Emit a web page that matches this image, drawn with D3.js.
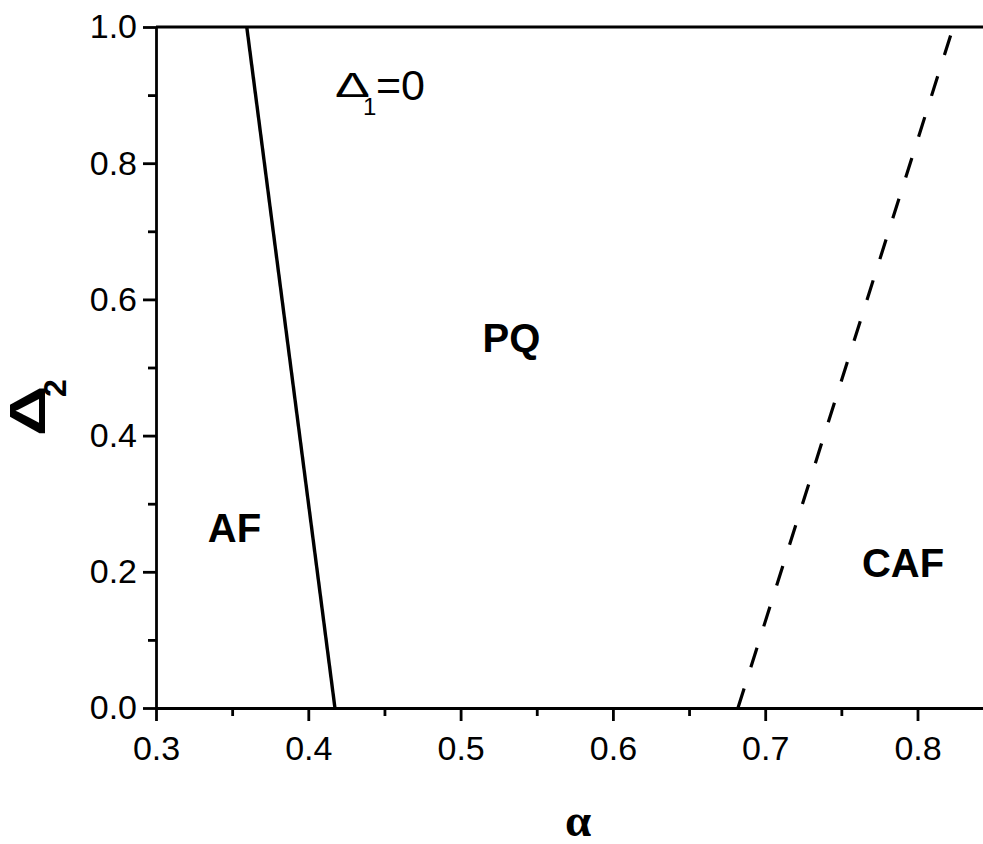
<!DOCTYPE html>
<html>
<head>
<meta charset="utf-8">
<script src="https://cdn.jsdelivr.net/npm/d3@7"></script>
<style>
  body { margin: 0; background: #fff; }
  svg { display: block; }
</style>
</head>
<body>
<svg id="chart" width="983" height="844"></svg>
<script>
// Phase boundaries in the (alpha, Delta2) plane for Delta1 = 0
const afAlpha   = [0.4175, 0.3596];   // AF / PQ boundary (solid)
const afDelta2  = [0.0, 1.0];
const cafAlpha  = [0.6821, 0.8218];   // PQ / CAF boundary (dashed)
const cafDelta2 = [0.0, 0.988];

// Axis ticks
const xMajorTicks = [0.3, 0.4, 0.5, 0.6, 0.7, 0.8];
const xMinorTicks = [0.35, 0.45, 0.55, 0.65, 0.75, 0.85];
const yMajorTicks = [0.0, 0.2, 0.4, 0.6, 0.8, 1.0];
const yMinorTicks = [0.1, 0.3, 0.5, 0.7, 0.9];

// Phase region names and where they sit (alpha, Delta2 of baseline centre)
const phaseNames  = ["AF", "PQ", "CAF"];
const phaseAlpha  = [0.3515, 0.5334, 0.7905];
const phaseDelta2 = [0.2438, 0.523, 0.193];

const svg = d3.select("#chart");
const FONT = "'Liberation Sans', Arial, Helvetica, sans-serif";

const x = d3.scaleLinear().domain([0.3, 0.85]).range([156, 156 + 0.55 * 1523]);
const y = d3.scaleLinear().domain([0, 1]).range([708, 27]);

const AXIS_W = 2.8;

// --- axes -------------------------------------------------------------
function styleAxis(g, fontSize) {
  g.attr("font-family", FONT).attr("font-size", fontSize);
  g.selectAll("path.domain").attr("stroke", "#000").attr("stroke-width", AXIS_W);
  g.selectAll(".tick line").attr("stroke", "#000").attr("stroke-width", AXIS_W);
  g.selectAll(".tick text").attr("fill", "#000");
}

const xAxis = svg.append("g")
  .attr("transform", `translate(0,${y(0)})`)
  .call(d3.axisBottom(x).tickValues(xMajorTicks).tickSize(13).tickPadding(15)
        .tickSizeOuter(0).tickFormat(d3.format(".1f")));
styleAxis(xAxis, 34);

const xMinor = svg.append("g")
  .attr("transform", `translate(0,${y(0)})`)
  .call(d3.axisBottom(x).tickValues(xMinorTicks).tickSize(8).tickFormat(""));
xMinor.select("path.domain").remove();
styleAxis(xMinor, 34);

const yAxis = svg.append("g")
  .attr("transform", `translate(${x(0.3)},0)`)
  .call(d3.axisLeft(y).tickValues(yMajorTicks).tickSize(13).tickPadding(6)
        .tickSizeOuter(0).tickFormat(d3.format(".1f")));
styleAxis(yAxis, 34);

const yMinor = svg.append("g")
  .attr("transform", `translate(${x(0.3)},0)`)
  .call(d3.axisLeft(y).tickValues(yMinorTicks).tickSize(8).tickFormat(""));
yMinor.select("path.domain").remove();
styleAxis(yMinor, 34);

// top frame line
svg.append("line")
  .attr("x1", x(0.3)).attr("x2", x(0.85))
  .attr("y1", y(1)).attr("y2", y(1))
  .attr("stroke", "#000").attr("stroke-width", AXIS_W);

// --- boundaries -------------------------------------------------------
const line = d3.line().x(d => x(d[0])).y(d => y(d[1]));

svg.append("path")
  .datum(d3.zip(afAlpha, afDelta2))
  .attr("d", line)
  .attr("fill", "none")
  .attr("stroke", "#000")
  .attr("stroke-width", 3.4);

svg.append("path")
  .datum(d3.zip(cafAlpha, cafDelta2))
  .attr("d", line)
  .attr("fill", "none")
  .attr("stroke", "#000")
  .attr("stroke-width", 3.2)
  .attr("stroke-dasharray", "20.5,22.3");

// --- phase labels -----------------------------------------------------
svg.append("g")
  .selectAll("text")
  .data(d3.range(phaseNames.length))
  .join("text")
  .attr("x", i => x(phaseAlpha[i]))
  .attr("y", i => y(phaseDelta2[i]))
  .attr("text-anchor", "middle")
  .attr("font-family", FONT)
  .attr("font-weight", "bold")
  .attr("font-size", 40)
  .attr("fill", "#000")
  .text(i => phaseNames[i]);

// "Δ1=0" annotation
const note = svg.append("g").attr("font-family", FONT).attr("fill", "#000");
note.append("text")
  .attr("transform", "translate(335,97) scale(1.45,1)")
  .attr("font-size", 36)
  .text("Δ");
note.append("text")
  .attr("x", 363).attr("y", 115)
  .attr("font-size", 24)
  .text("1");
note.append("text")
  .attr("x", 376).attr("y", 100)
  .attr("font-size", 43)
  .text("=0");

// --- axis titles ------------------------------------------------------
svg.append("text")
  .attr("x", 578).attr("y", 836)
  .attr("text-anchor", "middle")
  .attr("font-family", "'Liberation Serif', 'Times New Roman', serif")
  .attr("font-weight", "bold")
  .attr("font-size", 47)
  .attr("fill", "#000")
  .text("α");

const yTitle = svg.append("g").attr("font-family", FONT).attr("font-weight", "bold").attr("fill", "#000");
yTitle.append("text")
  .attr("transform", "translate(45,436) rotate(-90) scale(1.4,1)")
  .attr("font-size", 50)
  .text("Δ");
yTitle.append("text")
  .attr("transform", "translate(66,397) rotate(-90)")
  .attr("font-size", 32)
  .text("2");
</script>
</body>
</html>
